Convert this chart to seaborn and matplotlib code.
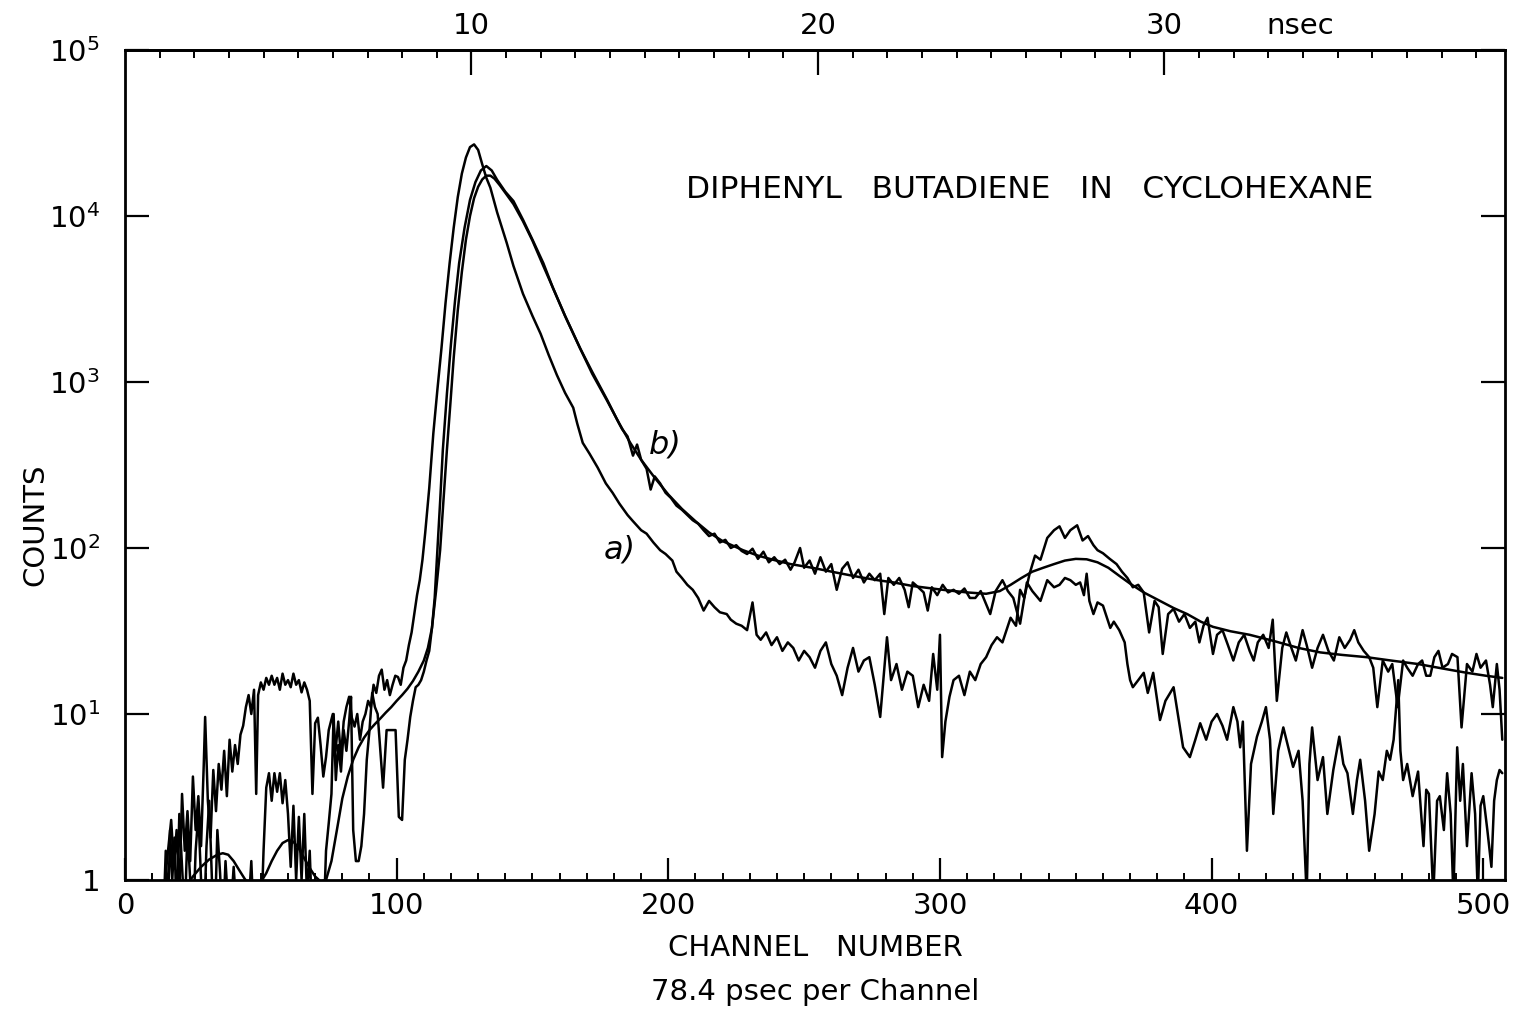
import matplotlib
matplotlib.use("Agg")
import matplotlib.pyplot as plt
import numpy as np
import pandas as pd
import seaborn as sns
from matplotlib.ticker import FixedLocator, NullLocator

# ---------------- data (channel, counts) ----------------
trace_a = [
    (14, 0.5), (15, 1.1), (16, 1.6), (17, 2.3), (18, 1.2), (19, 2.0), (20, 0.8), (21, 3.3),
    (22, 1.5), (23, 2.6), (24, 1.3), (25, 4.2), (26, 2.0), (27, 3.2), (28, 1.6), (29, 5.0),
    (29.5, 9.6), (30.5, 3.0), (31.5, 1.8), (32.5, 4.6), (33.5, 2.6), (34.5, 5.0), (35.5, 3.5),
    (36.5, 6.0), (37.5, 3.2), (38.5, 7.0), (39.5, 4.5), (40.5, 6.5), (41.5, 5.0), (42.5, 7.5),
    (43.5, 8.5), (44.5, 11), (45.5, 13), (46.5, 10), (47.5, 14), (48.3, 3.3), (49, 13),
    (50, 15.5), (51, 14), (52, 16.5), (53, 15), (54, 17), (55, 15), (56, 16.5), (57, 14),
    (58, 17.5), (59, 15), (60, 16), (61, 14.5), (62, 17.5), (63, 15), (64, 16), (65, 13.5),
    (66, 15.5), (67, 14), (68, 12), (69, 3.3), (70, 8.8), (71, 9.5), (72, 6.5), (73, 4.2),
    (74, 5.5), (75, 8), (76.5, 10), (77.5, 6), (78.5, 9), (79.5, 5.5), (80.5, 9), (81.5, 11),
    (82.5, 12.7), (83.5, 9.5), (84.5, 8.4), (85.5, 10), (86.5, 7), (87.5, 9), (88.5, 10),
    (89.5, 12), (90.5, 11), (91.5, 15), (92.5, 13.4), (93.5, 17), (94.5, 18.5), (95.5, 14),
    (96.5, 16), (97.5, 13), (98.5, 15), (99.5, 17), (100.5, 16.7), (101.5, 15), (102.5, 19),
    (103.5, 21), (104.5, 26), (105.5, 31), (106.5, 40), (107.5, 52), (108.5, 64), (109.5, 85),
    (110.5, 123), (112, 230), (113.5, 490), (115, 900), (116.5, 1600), (118, 3000),
    (119.5, 5200), (121, 8500), (122.5, 13000), (124, 18000), (125.5, 22500), (127, 26000),
    (128.5, 27000), (130, 25000), (131.5, 20500), (133, 17000), (134.5, 14800), (137, 10500),
    (140.5, 6900), (143, 5000), (146.5, 3400), (150, 2500), (153, 1950), (156, 1450),
    (159, 1100), (162, 860), (165, 700), (166.5, 560), (168.5, 430), (171, 370), (174, 305),
    (177, 245), (179.5, 215), (182, 185), (185, 158), (187, 145), (190, 128), (192, 122),
    (194.5, 108), (197, 97), (199, 92), (201.5, 84), (203, 72), (205, 66), (207, 60),
    (209, 56), (211, 50), (213, 42), (215, 48), (217, 44), (219, 41), (221.5, 40), (223, 37),
    (225, 35), (227, 34), (229, 32), (231, 47), (232.5, 30), (234, 28), (236, 31), (238, 26),
    (240, 29), (242, 24), (244, 27), (246, 25), (248, 21), (250, 24), (252, 22), (254, 19),
    (256, 24), (258, 27), (260, 20), (262, 17), (264, 13), (266, 19), (268, 25), (270, 18),
    (272, 21), (274, 22), (276, 15), (278, 9.6), (280.5, 29), (282, 16), (284, 20), (286, 14),
    (288, 18), (290, 17), (292, 11), (294, 15), (296, 12), (297.5, 23), (299, 14), (300, 30),
    (300.8, 5.5), (302, 9), (303.5, 12.7), (305, 16), (307, 17), (309, 13), (311, 18),
    (313, 16), (315, 20), (317, 22), (319, 26), (321, 29), (323, 27), (326, 38), (328, 34),
    (329.5, 56), (331, 50), (333, 70), (335, 90), (337, 85), (339.5, 115), (342, 128),
    (344, 135), (346, 115), (348, 128), (350.5, 137), (352.5, 111), (354.5, 118),
    (356.5, 104), (358, 97), (360, 93), (362.5, 86), (365, 80), (367, 72), (369, 66),
    (371, 58), (373, 60), (375, 54), (377, 31), (379, 48), (380.5, 44), (382, 23), (384, 40),
    (386, 43), (388, 36), (390, 40), (392, 33), (394, 36), (395.5, 27), (397, 34),
    (398.5, 38), (400.5, 23), (402, 30), (404, 32), (406, 26), (408, 21), (410, 27),
    (412, 30), (414, 24), (415.5, 21), (417, 27), (419, 30), (421, 25), (422.5, 37),
    (424, 12), (426, 25), (427.5, 31), (429, 26), (431, 21), (433.5, 32), (435, 26),
    (437, 19), (439, 25), (441, 30), (443, 24), (445, 21), (447, 29), (449, 25), (451, 28),
    (452.5, 32), (454, 27), (456, 24), (458, 22), (459.5, 19), (461, 11), (463, 21),
    (465, 18), (466.5, 20), (468.5, 11), (470.5, 21), (472, 19), (474, 17), (476, 20),
    (477.5, 21), (479, 17), (480.5, 17), (482, 22), (483.5, 24), (485, 19), (487, 20),
    (488.5, 23), (490.5, 22), (492, 8.3), (494, 20), (496, 18), (497.5, 23), (499, 19),
    (501, 21), (502.5, 15), (503.5, 11), (505, 20), (506, 14), (507, 7),
]

trace_b = [
    (14, 0.5), (15, 1.5), (15.8, 0.6), (16.6, 2.0), (17.4, 1.0), (18.2, 1.8), (19, 0.6),
    (20, 2.5), (21, 1.2), (22, 0.6), (23, 2.0), (24, 1.0), (25, 0.5), (26, 1.5), (27, 2.5),
    (28, 1.0), (29, 0.5), (30, 1.6), (31, 3.0), (32, 1.0), (33, 0.5), (34, 2.0), (35, 1.1),
    (36, 0.5), (37, 1.3), (38.5, 0.5), (40, 1.2), (41.5, 0.5), (43, 0.9), (45, 0.5),
    (46.5, 1.3), (47.5, 0.5), (50, 0.5), (51, 1.5), (52, 3.6), (53, 4.4), (54, 3.0),
    (55, 4.4), (56, 3.4), (57, 4.4), (58, 2.9), (59, 4.0), (60, 2.5), (61, 1.2), (62, 2.8),
    (63, 1.0), (64, 2.4), (65, 1.0), (66, 2.5), (67, 0.8), (68, 1.5), (69, 0.5), (73, 0.5),
    (74, 1.5), (75, 2.2), (76, 3.3), (76.8, 10), (77.6, 4.0), (78.5, 6.5), (79.5, 4.5),
    (80.5, 8), (81.5, 6), (82.5, 9), (83.2, 12.7), (84, 2.0), (85, 1.3), (86, 1.3), (87, 1.6),
    (88, 2.5), (89, 5.3), (90, 8), (91, 13.4), (92, 11), (93, 10), (94, 6), (95, 3.6),
    (96.3, 8), (99.6, 8), (100.8, 2.4), (102, 2.3), (103, 5.3), (104, 7), (105, 9.6),
    (106, 12), (107, 14.5), (108, 15), (109, 16), (110, 18), (111, 21), (112, 24), (113, 33),
    (114, 50), (115, 97), (116, 190), (117, 390), (118.5, 850), (120, 1700), (121.5, 3100),
    (123, 5200), (125, 8500), (127, 12500), (129, 16000), (131, 18800), (133, 20000),
    (135, 18800), (137, 16500), (140, 14000), (143, 12300), (146.5, 9500), (150, 7200),
    (154, 5200), (157.5, 3700), (162, 2500), (167.5, 1600), (172, 1150), (177.5, 780),
    (181, 600), (183, 520), (185, 470), (187, 360), (188.5, 420), (190, 340), (192, 300),
    (193.5, 225), (195, 270), (197, 245), (199, 215), (201, 200), (203, 180), (205, 170),
    (207, 158), (209, 147), (211, 140), (213, 128), (215, 118), (217, 122), (219, 108),
    (221, 112), (223, 100), (225, 104), (227, 96), (229, 92), (231, 99), (233, 86), (235, 95),
    (237, 82), (239, 88), (241, 80), (243, 85), (245, 74), (246.5, 82), (248.5, 100),
    (250, 76), (252, 84), (254, 70), (256, 88), (258, 72), (260, 80), (262, 56), (264, 75),
    (266, 82), (268, 66), (270, 74), (272, 62), (274, 70), (276, 64), (278, 70), (279.5, 40),
    (281, 66), (283, 60), (285, 66), (287, 56), (288.5, 44), (290, 62), (292, 58), (294, 54),
    (295.5, 42), (297, 58), (299, 52), (301, 60), (303, 54), (305, 56), (307, 53), (309, 57),
    (311, 50), (313, 50), (315, 55), (316.5, 48), (318.5, 40), (320.5, 55), (323, 64),
    (325, 55), (327, 50), (329.5, 35), (332, 62), (334, 55), (337, 48), (339.5, 64),
    (342, 58), (344, 60), (346, 66), (348, 64), (350, 60), (351.6, 62), (353, 52), (354, 70),
    (355, 48), (356.5, 40), (358, 47), (360, 45), (362.7, 33), (364, 36), (366, 32),
    (368, 27), (369, 20), (370, 16), (371, 14.5), (373, 16), (375, 17.7), (376.5, 13.4),
    (378.5, 17.7), (380, 12), (381, 9.2), (383, 12), (386, 14.5), (388, 9), (389.5, 6.3),
    (392, 5.5), (394, 7), (395.8, 8.8), (398, 7), (400, 9), (402, 10), (404, 8.5),
    (405.7, 7), (408, 11), (409.5, 9), (410.5, 6.3), (411.5, 9), (413, 1.5), (414.5, 5),
    (416.7, 7.3), (418.5, 9), (420, 11), (421.5, 7), (422.7, 2.5), (424.5, 6), (426.4, 8.3),
    (428, 6.5), (430, 4.8), (432, 6), (433.5, 3), (435, 0.8), (436, 5), (437, 8.3), (439, 4),
    (441, 5.5), (442.6, 2.5), (444.8, 4.6), (447, 7.3), (448.5, 5), (450, 4.4), (452, 2.5),
    (453.5, 4), (454.7, 5.3), (456.5, 3), (458, 1.5), (460, 2.5), (461.5, 4.5), (463, 4),
    (464.5, 6), (465.7, 5.3), (467, 7), (468.7, 16), (469.5, 6), (470.5, 4), (472, 5),
    (474, 3.2), (476, 4.5), (478, 1.6), (479, 3.5), (480, 3.3), (481.6, 0.8), (483, 3.0),
    (484, 3.2), (485.5, 2), (486.7, 4.4), (488, 2.5), (489, 0.8), (490.4, 6.3), (491.5, 3),
    (492.5, 5), (494, 1.6), (495.7, 4.4), (497, 2.5), (498, 0.8), (499, 2.8), (500, 3.2),
    (501.5, 2), (503, 1.2), (504, 3), (505, 4), (506, 4.6), (507, 4.4),
]

trace_fit = [
    (22, 0.9), (25, 1.05), (28, 1.2), (31, 1.33), (34, 1.42), (36, 1.45), (38, 1.42),
    (40, 1.3), (42, 1.15), (44, 1.02), (46, 0.92), (48, 0.9), (50, 0.97), (52, 1.1),
    (54, 1.3), (56, 1.5), (58, 1.67), (60, 1.74), (62, 1.7), (64, 1.55), (66, 1.35),
    (68, 1.18), (70, 1.05), (72, 0.98), (74, 1.0), (76, 1.3), (78, 2.0), (80, 3.1), (82, 4.2),
    (84, 5.3), (86, 6.3), (88, 7.2), (90, 8.0), (92, 8.7), (94, 9.4), (96, 10.2), (98, 11),
    (100, 12), (102, 13), (104, 14.2), (106, 15.8), (108, 18), (110, 21), (111.5, 25),
    (113, 33), (114.5, 55), (116, 97), (117.2, 190), (118.5, 390), (119.8, 750), (121, 1400),
    (122.5, 2700), (124, 4600), (125.5, 7200), (127, 10000), (128.5, 12800), (130, 15000),
    (131.5, 16600), (133, 17500), (134.5, 17500), (136, 16800), (138, 15300), (140, 13800),
    (143, 11800), (146.5, 9300), (150, 7100), (154, 5000), (157.5, 3700), (162, 2500),
    (167.5, 1600), (172, 1120), (177.5, 770), (182, 560), (186, 430), (190, 340), (195, 265),
    (200, 210), (205, 172), (210, 145), (215, 124), (220, 110), (227.5, 97), (233, 90),
    (238.5, 85), (245, 80), (253, 76), (262, 71), (270, 67), (277, 64), (283, 62), (290, 59),
    (301, 56), (310, 54), (317, 53), (322, 55), (326, 60), (330, 66), (334, 72), (338, 76),
    (342, 80), (346, 84), (350, 86), (354, 85.5), (358, 82), (362, 76), (366, 68), (370, 61),
    (375, 54), (381, 48), (386, 43.5), (391, 40), (396, 36), (400.5, 33.5), (407, 31.5),
    (414, 30), (423, 27.5), (432, 25), (440, 23.5), (448, 22.7), (457, 22), (466, 21),
    (476, 20), (485, 18.8), (494, 17.7), (501, 17), (507, 16.5),
]

x_ticks = [0, 100, 200, 300, 400, 500]
y_ticks = [1, 10, 100, 1000, 10000, 100000]
y_tick_labels = ["1", r"$\mathregular{10^{1}}$", r"$\mathregular{10^{2}}$",
                 r"$\mathregular{10^{3}}$", r"$\mathregular{10^{4}}$", r"$\mathregular{10^{5}}$"]
ns_ticks = [10, 20, 30]
ps_per_channel = 78.4

# ---------------- figure ----------------
sns.set_style("ticks")
plt.rcParams["font.family"] = ["DejaVu Sans"]
for k in ["text.color", "axes.labelcolor", "xtick.color", "ytick.color", "axes.edgecolor"]:
    plt.rcParams[k] = "black"

W, H = 1514, 1011
fig = plt.figure(figsize=(W / 100, H / 100), dpi=100)
ax = fig.add_axes([125 / W, 1 - 880 / H, (1505 - 125) / W, (880 - 50) / H])

for name, tr in [("a", trace_a), ("b", trace_b), ("fit", trace_fit)]:
    ch, ct = zip(*tr)
    df = pd.DataFrame({"channel": ch, "counts": ct})
    sns.lineplot(data=df, x="channel", y="counts", ax=ax, color="black",
                 lw=1.8, estimator=None, sort=False, legend=False)

ax.set_yscale("log")
ax.set_xlim(0, 508)
ax.set_ylim(1, 1e5)
ax.set_xlabel("")
ax.set_ylabel("")

for s in ax.spines.values():
    s.set_linewidth(2.0)
    s.set_color("black")
    s.set_visible(True)

ax.xaxis.set_major_locator(FixedLocator(x_ticks))
ax.xaxis.set_minor_locator(FixedLocator(list(range(10, 510, 10))))
ax.set_xticklabels([str(t) for t in x_ticks])
ax.yaxis.set_major_locator(FixedLocator(y_ticks))
ax.yaxis.set_minor_locator(NullLocator())
ax.set_yticklabels(y_tick_labels)

ax.tick_params(axis="x", which="major", direction="in", length=16, width=1.6,
               labelsize=21, pad=9, top=False, colors="black")
ax.tick_params(axis="x", which="minor", direction="in", length=5, width=1.4, top=False,
               colors="black")
ax.tick_params(axis="y", which="major", direction="in", length=17, width=1.6,
               labelsize=21, pad=18, right=True, colors="black")

conv = ps_per_channel / 1000.0
sec = ax.secondary_xaxis("top", functions=(lambda c: c * conv, lambda t: t / conv))
sec.xaxis.set_major_locator(FixedLocator(ns_ticks))
sec.xaxis.set_minor_locator(FixedLocator([i for i in range(1, 40) if i % 10]))
sec.set_xticklabels([str(t) for t in ns_ticks])
sec.tick_params(axis="x", which="major", direction="in", length=18, width=1.6,
                labelsize=21, pad=7, colors="black")
sec.tick_params(axis="x", which="minor", direction="in", length=6, width=1.4, colors="black")
sec.spines["top"].set_linewidth(2.0)
sec.spines["top"].set_color("black")

fig.text(1300 / W, 1 - 26 / H, "nsec", fontsize=21, ha="center", va="center")
fig.text(35 / W, 1 - 525 / H, "COUNTS", fontsize=21, rotation=90, ha="center", va="center")
fig.text(815 / W, 1 - 948 / H, "CHANNEL   NUMBER", fontsize=21, ha="center", va="center")
fig.text(815 / W, 1 - 992 / H, "78.4 psec per Channel", fontsize=21, ha="center", va="center")
fig.text(1030 / W, 1 - 190 / H, "DIPHENYL   BUTADIENE   IN   CYCLOHEXANE", fontsize=22.5,
         ha="center", va="center")

ax.text(182, 97, "a)", fontsize=23, ha="center", va="center", style="italic")
ax.text(199, 418, "b)", fontsize=23, ha="center", va="center", style="italic")

fig.savefig("out.png", dpi=100)
